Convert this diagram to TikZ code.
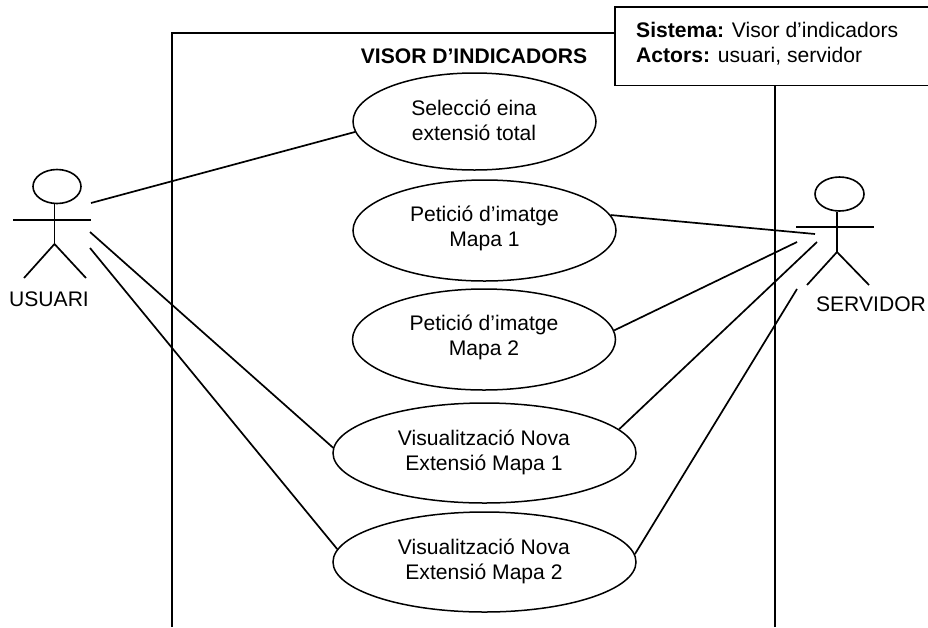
\documentclass[tikz,border=0pt]{standalone}
\usepackage{fontspec}
\setmainfont{Liberation Sans}
\usetikzlibrary{shapes.geometric}
\tikzset{
  x=1pt,y=-1pt,
  ln/.style={line width=1.7pt,black},
  usecase/.style={ellipse,draw,line width=1.5pt,inner sep=0pt,minimum width=#1},
  casetext/.style={inner sep=0pt,align=center,font=\fontsize{21.1}{25}\selectfont},
  head/.style={ellipse,draw,line width=1.6pt,inner sep=0pt},
  lbl/.style={inner sep=0pt,font=\fontsize{21.1}{25}\selectfont}
}
\begin{document}
\begin{tikzpicture}
\useasboundingbox (0,0) rectangle (928,627);
% system box
\node[inner sep=0pt,minimum width=313pt,minimum height=78pt,anchor=north west] (box) at (615,7) {};
\node[lbl,anchor=north west,align=left] (boxtext) at (636,22.5) {\textbf{Sistema:} Visor d’indicadors\\\textbf{Actors:} usuari, servidor};
\draw[ln] (box.north east) -- (box.north west) -- (box.south west) -- (box.south east);
% frame
\coordinate (fl) at (172,627);
\coordinate (fr) at (775,627);
\coordinate (ft) at (box.west |- 0,33);
\coordinate (fb) at (775,85);
\draw[ln] (fl) |- (ft);
\draw[ln] (fr) -- (fb);
\node[lbl,font=\fontsize{21.1}{25}\selectfont\bfseries] (title) at (474,56) {VISOR D’INDICADORS};
% use cases
\node[usecase=243pt,minimum height=97pt] (e1) at (474.5,121.5) {};
\node[usecase=263pt,minimum height=101pt] (e2) at (484.5,230.5) {};
\node[usecase=263pt,minimum height=101pt] (e3) at (484,339.5) {};
\node[usecase=303pt,minimum height=100pt] (e4) at (484.5,453) {};
\node[usecase=303pt,minimum height=100pt] (e5) at (484.5,562) {};
\node[casetext] (t1) at (474,120) {Selecció eina\\extensió total};
\node[casetext] (t2) at (484.5,228) {Petició d’imatge\\Mapa 1};
\node[casetext] (t3) at (484,337) {Petició d’imatge\\Mapa 2};
\node[casetext] (t4) at (484,452.5) {Visualització Nova\\Extensió Mapa 1};
\node[casetext] (t5) at (484,561) {Visualització Nova\\Extensió Mapa 2};
% usuari
\node[head,minimum width=48pt,minimum height=34pt] (uh) at (57,186.5) {};
\coordinate (uc) at (54.5,244);
\coordinate (ua1) at (13,220);
\coordinate (ua2) at (91,220);
\coordinate (ul1) at (24,278);
\coordinate (ul2) at (86,278);
\draw[ln] (uh.south -| uc) -- (uc);
\draw[ln] (ua1) -- (ua2);
\draw[ln] (ul1) -- (uc) -- (ul2);
\node[lbl] (ulabel) at (49,299.5) {USUARI};
% servidor
\node[head,minimum width=49pt,minimum height=34pt] (sh) at (839.5,194) {};
\coordinate (sc) at (837,252);
\coordinate (sa1) at (796,227);
\coordinate (sa2) at (874,227);
\coordinate (sl1) at (807,285);
\coordinate (sl2) at (869,285);
\draw[ln] (sh.south -| sc) -- (sc);
\draw[ln] (sa1) -- (sa2);
\draw[ln] (sl1) -- (sc) -- (sl2);
\node[lbl] (slabel) at (871,304) {SERVIDOR};
% connectors
\coordinate (u1) at (91,203);
\coordinate (u2) at (90,232);
\coordinate (u3) at (90,248);
\coordinate (s1) at (815,234);
\coordinate (s2) at (797,242);
\coordinate (s3) at (817,242);
\coordinate (s4) at (797,289);
\draw[ln] (u1) -- (e1.185.5);
\draw[ln] (u2) -- (e4.178.9);
\draw[ln] (u3) -- (e5.175.8);
\draw[ln] (e2.7.8) -- (s1);
\draw[ln] (e3.4.6) -- (s2);
\draw[ln] (e4.10.4) -- (s3);
\draw[ln] (e5.3.8) -- (s4);
\end{tikzpicture}
\end{document}
